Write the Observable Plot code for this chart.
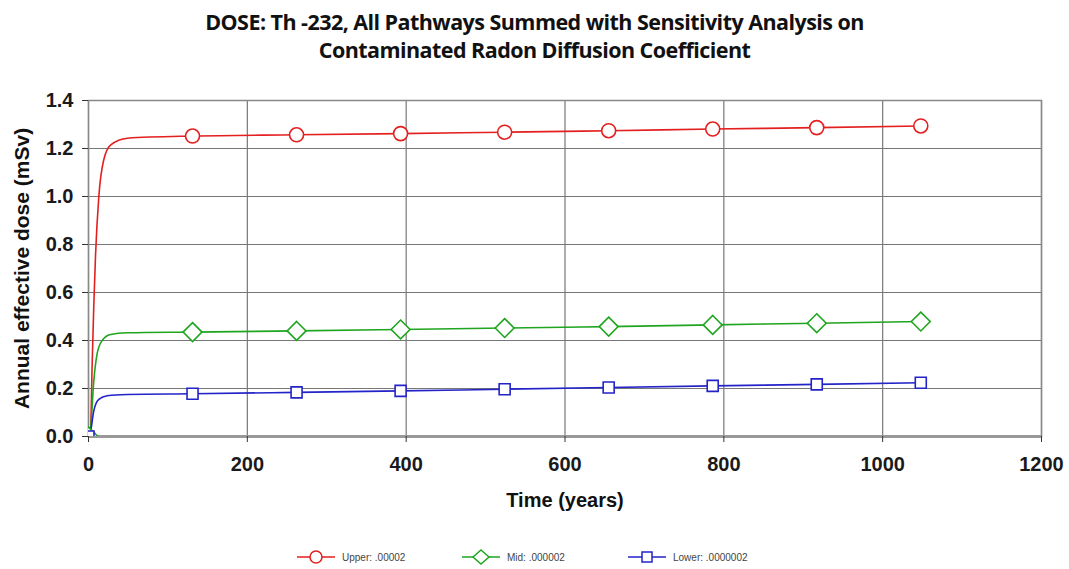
<!DOCTYPE html>
<html>
<head>
<meta charset="utf-8">
<script src="https://cdn.jsdelivr.net/npm/d3@7"></script>
<script src="https://cdn.jsdelivr.net/npm/@observablehq/plot@0.6"></script>
<style>
  body { margin: 0; background: #fff; width: 1069px; height: 569px; overflow: hidden; position: relative; }
  #title { height: 80px; box-sizing: border-box; padding-top: 8px; text-align: center;
    font-family: "Open Sans", sans-serif; font-weight: 700; font-size: 21.5px; line-height: 28px; color: #111; letter-spacing: -0.55px; }
  #legend { position: absolute; left: 0; top: 549px; width: 1069px; height: 18px;
    font-family: "Liberation Sans", Arial, sans-serif; font-size: 10px; color: #444; }
  .item { position: absolute; top: 0; display: flex; align-items: center; }
  .item svg { margin-right: 7px; }
</style>
</head>
<body>
<div id="title">DOSE: Th -232, All Pathways Summed with Sensitivity Analysis on<br>Contaminated Radon Diffusion Coefficient</div>
<div id="chart"></div>
<div id="legend"></div>
<script>
// Curve samples (years, mSv)
const upperT = [0, 2.5, 4.6, 6.7, 8.8, 13, 19, 28, 49, 131, 262, 393, 524, 655, 786, 917, 1048];
const upperV = [0, 0.02, 0.30, 0.55, 0.75, 1.00, 1.15, 1.215, 1.243, 1.252, 1.257, 1.262, 1.268, 1.274, 1.281, 1.287, 1.294];
const midT = [0, 2.5, 6.7, 10.9, 17.2, 27.7, 48.7, 131, 262, 393, 524, 655, 786, 917, 1048];
const midV = [0, 0.03, 0.233, 0.345, 0.40, 0.425, 0.432, 0.435, 0.440, 0.446, 0.452, 0.458, 0.465, 0.472, 0.479];
const lowerT = [0, 2.5, 6.7, 13, 23.5, 48.7, 131, 262, 393, 524, 655, 786, 917, 1048];
const lowerV = [0, 0.02, 0.108, 0.155, 0.17, 0.175, 0.178, 0.184, 0.190, 0.197, 0.204, 0.211, 0.217, 0.224];
// Marker positions
const markerT = [0, 131, 262, 393, 524, 655, 786, 917, 1048];
const upperM = [0, 1.252, 1.257, 1.262, 1.268, 1.274, 1.281, 1.287, 1.294];
const midM = [0, 0.435, 0.440, 0.446, 0.452, 0.458, 0.465, 0.472, 0.479];
const lowerM = [0, 0.178, 0.184, 0.190, 0.197, 0.204, 0.211, 0.217, 0.224];
const seriesNames = ["Upper: .00002", "Mid: .000002", "Lower: .0000002"];
const colors = ["#e41f1f", "#1fa51f", "#2323c8"];
const xTicks = [0, 200, 400, 600, 800, 1000, 1200];
const yTicks = [0, 0.2, 0.4, 0.6, 0.8, 1.0, 1.2, 1.4];

const lineData = [
  ...upperT.map((t, i) => ({t, v: upperV[i], s: seriesNames[0]})),
  ...midT.map((t, i) => ({t, v: midV[i], s: seriesNames[1]})),
  ...lowerT.map((t, i) => ({t, v: lowerV[i], s: seriesNames[2]}))
];
const mk = (arr, s) => markerT.map((t, i) => ({t, v: arr[i], s}));
const upperPts = mk(upperM, seriesNames[0]);
const midPts = mk(midM, seriesNames[1]);
const lowerPts = mk(lowerM, seriesNames[2]);

const font = '"Liberation Sans", Arial, sans-serif';
const chart = Plot.plot({
  width: 1069,
  height: 460,
  marginLeft: 88,
  marginRight: 28,
  marginTop: 20,
  marginBottom: 104,
  style: {fontFamily: font, background: "#fff", overflow: "visible"},
  x: {domain: [0, 1200], ticks: xTicks, label: null},
  y: {domain: [0, 1.4], ticks: yTicks, label: null},
  color: {domain: seriesNames, range: colors},
  marks: [
    Plot.gridX(xTicks, {stroke: "#777", strokeOpacity: 1, strokeWidth: 1.2}),
    Plot.gridY(yTicks, {stroke: "#777", strokeOpacity: 1, strokeWidth: 1.2}),
    Plot.frame({stroke: "#888", strokeWidth: 1.5}),
    Plot.ruleY([0], {stroke: "#999", strokeWidth: 3}),
    Plot.axisX({ticks: xTicks, tickSize: 6, tickPadding: 14, tickFormat: d => String(d),
      fontSize: 20, fontWeight: "bold", stroke: "#333", fill: "#1a1a1a",
      label: "Time (years)", labelAnchor: "center", labelArrow: "none", labelOffset: 70}),
    Plot.axisY({ticks: yTicks, tickSize: 6, tickPadding: 9, tickFormat: d => d.toFixed(1),
      fontSize: 20, fontWeight: "bold", stroke: "#333", fill: "#1a1a1a",
      label: "Annual effective dose (mSv)", labelAnchor: "center", labelArrow: "none", labelOffset: 74}),
    Plot.line(lineData, {x: "t", y: "v", z: "s", stroke: "s", strokeWidth: 1.6, curve: "monotone-x", clip: true}),
    Plot.dot(upperPts, {x: "t", y: "v", r: 7, stroke: colors[0], fill: "white", strokeWidth: 1.6, symbol: "circle", clip: true}),
    Plot.dot(midPts, {x: "t", y: "v", r: 8.5, stroke: colors[1], fill: "white", strokeWidth: 1.6, symbol: "diamond2", clip: true}),
    Plot.dot(lowerPts, {x: "t", y: "v", r: 7, stroke: colors[2], fill: "white", strokeWidth: 1.6, symbol: "square2", clip: true})
  ]
});
d3.select(chart).selectAll("g[aria-label='x-axis label'] text")
  .style("font-size", "20px").style("font-weight", "bold").style("fill", "#111");
d3.select(chart).selectAll("g[aria-label='y-axis label'] text")
  .style("font-size", "21px").style("font-weight", "bold").style("fill", "#111");
document.getElementById("chart").appendChild(chart);

// Legend
const symbols = [
  '<circle cx="19" cy="7" r="6" fill="white" stroke="COL" stroke-width="1.5"/>',
  '<path d="M19 0 L27 7 L19 14 L11 7 Z" fill="white" stroke="COL" stroke-width="1.5"/>',
  '<rect x="14" y="2" width="10" height="10" fill="white" stroke="COL" stroke-width="1.5"/>'
];
const legendLeft = [297, 462, 628];
const legend = document.getElementById("legend");
seriesNames.forEach((name, i) => {
  const div = document.createElement("div");
  div.className = "item";
  div.style.left = legendLeft[i] + "px";
  div.innerHTML = `<svg width="38" height="16" viewBox="0 -1 38 16"><line x1="0" y1="7" x2="38" y2="7" stroke="${colors[i]}" stroke-width="1.5"/>${symbols[i].replace("COL", colors[i])}</svg><span>${name}</span>`;
  legend.appendChild(div);
});
</script>
</body>
</html>
